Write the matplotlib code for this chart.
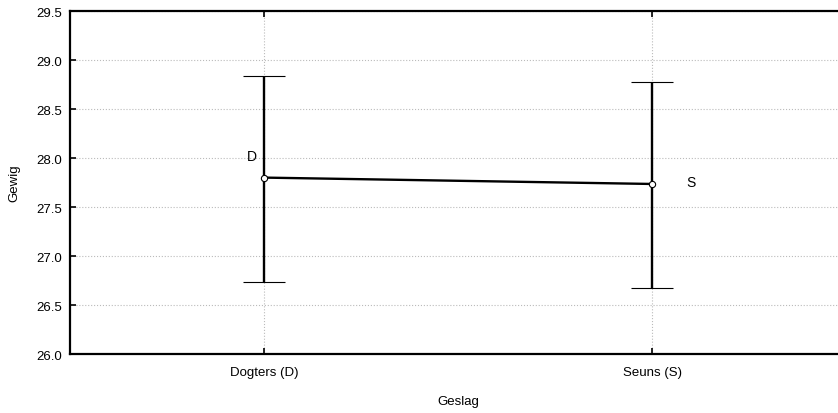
import matplotlib.pyplot as plt

plt.rcParams['font.family'] = ['Liberation Sans', 'DejaVu Sans']

kategoriee = ['Dogters (D)', 'Seuns (S)']
etikette = ['D', 'S']
gemiddeld = [27.80, 27.735]
bo = [28.84, 28.78]
onder = [26.735, 26.67]
y_ticks = [26.0, 26.5, 27.0, 27.5, 28.0, 28.5, 29.0, 29.5]

x = list(range(len(kategoriee)))
fout_bo = [b - m for b, m in zip(bo, gemiddeld)]
fout_onder = [m - o for m, o in zip(gemiddeld, onder)]

fig = plt.figure(figsize=(8.38, 4.14), dpi=100)
ax = fig.add_axes([70 / 838, 59 / 414, 776 / 838, 343 / 414])

ax.errorbar(x, gemiddeld, yerr=[fout_onder, fout_bo], color='black', lw=1.7,
            capsize=15, capthick=2.0, elinewidth=1.7, zorder=3,
            marker='o', ms=4.5, mfc='white', mec='black', mew=0.8)

ax.text(x[0] - 0.03, gemiddeld[0] + 0.15, etikette[0], fontsize=10, ha='center', va='bottom')
ax.text(x[1] + 0.1, gemiddeld[1] + 0.02, etikette[1], fontsize=10, ha='center', va='center')

ax.set_xlim(-0.5, 1.5)
ax.set_ylim(26.0, 29.5)
ax.set_xticks(x)
ax.set_xticklabels(kategoriee)
ax.set_yticks(y_ticks)
ax.set_yticklabels([f'{v:.1f}' for v in y_ticks])
ax.tick_params(labelsize=9.5, length=4, width=1.2, color='black',
               direction='in', top=True, right=True)
ax.tick_params(axis='x', pad=9)
ax.tick_params(axis='y', pad=6)
ax.grid(True, ls=':', color='#bbbbbb', lw=0.8)
for s in ax.spines.values():
    s.set_linewidth(1.6)

ax.set_xlabel('Geslag', fontsize=9.5, labelpad=12)
ax.set_ylabel('Gewig', fontsize=9.5, labelpad=11)

fig.savefig('out.png', dpi=100)
